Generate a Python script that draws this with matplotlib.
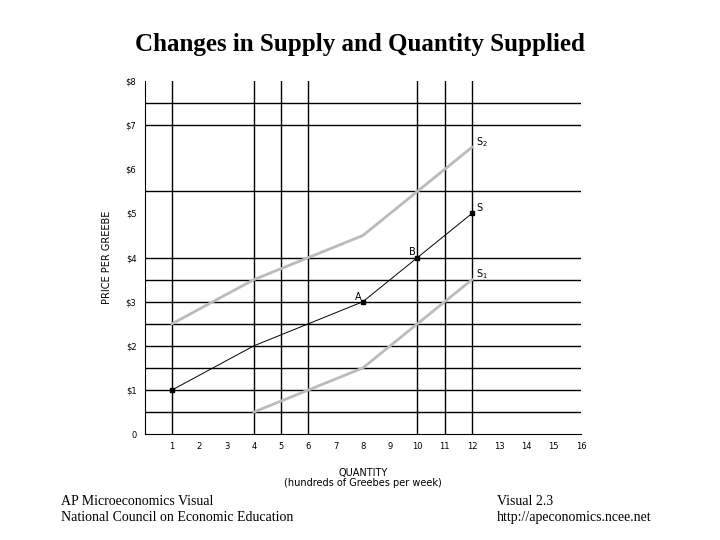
import matplotlib.pyplot as plt

q_s2 = [1, 4, 6, 8, 10, 12]
p_s2 = [2.5, 3.5, 4, 4.5, 5.5, 6.5]
q_s = [1, 4, 6, 8, 10, 12]
p_s = [1, 2, 2.5, 3, 4, 5]
q_s1 = [4, 6, 8, 10, 12]
p_s1 = [0.5, 1, 1.5, 2.5, 3.5]
h_grid = [0.5, 1, 1.5, 2, 2.5, 3, 3.5, 4, 5.5, 7, 7.5]
v_grid = [1, 4, 5, 6, 10, 11, 12]
x_ticks = list(range(1, 17))
y_ticks = [0, 1, 2, 3, 4, 5, 6, 7, 8]
y_labels = ['0'] + [f'${v}' for v in y_ticks[1:]]

fig = plt.figure(figsize=(7.2, 5.4), dpi=100)
ax = fig.add_axes([0.201, 0.196, 0.606, 0.654])
ax.set_xlim(0, 16)
ax.set_ylim(0, 8)
for y in h_grid:
    ax.axhline(y, color='black', lw=1)
for x in v_grid:
    ax.axvline(x, color='black', lw=1)

ax.plot(q_s2, p_s2, color='#bbbbbb', lw=2)
ax.plot(q_s1, p_s1, color='#bbbbbb', lw=2)
ax.plot(q_s, p_s, color='black', lw=0.7)
ax.plot([1, 8, 10, 12], [1, 3, 4, 5], 'ks', ms=3)

ax.text(12.15, 6.55, 'S$_2$', fontsize=7)
ax.text(12.15, 5.05, 'S', fontsize=7)
ax.text(12.15, 3.55, 'S$_1$', fontsize=7)
ax.text(7.7, 3.05, 'A', fontsize=7)
ax.text(9.7, 4.05, 'B', fontsize=7)

for s in ['top', 'right']:
    ax.spines[s].set_visible(False)
ax.set_xticks(x_ticks)
ax.set_yticks(y_ticks)
ax.set_yticklabels(y_labels)
ax.tick_params(length=0, labelsize=6, pad=6)
ax.set_xlabel('QUANTITY\n(hundreds of Greebes per week)', fontsize=7,
              linespacing=1.0, labelpad=12)
ax.set_ylabel('PRICE PER GREEBE', fontsize=7, labelpad=10)

fig.text(0.5, 0.917, 'Changes in Supply and Quantity Supplied', ha='center',
         va='center', fontsize=18, fontweight='bold', family='Liberation Serif')
fig.text(0.085, 0.03, 'AP Microeconomics Visual\nNational Council on Economic Education',
         fontsize=10, family='Liberation Serif', va='bottom', linespacing=1.3)
fig.text(0.69, 0.03, 'Visual 2.3\nhttp://apeconomics.ncee.net',
         fontsize=10, family='Liberation Serif', va='bottom', linespacing=1.3)

fig.savefig('out.png')
